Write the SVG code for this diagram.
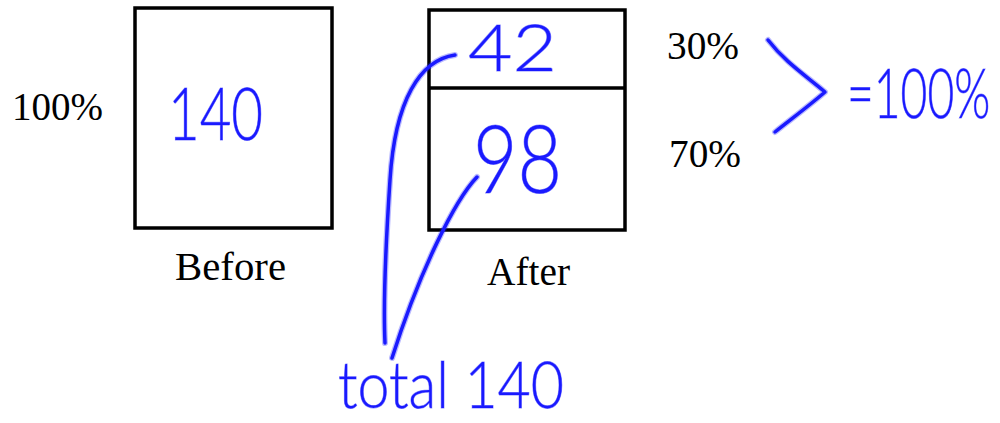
<svg xmlns="http://www.w3.org/2000/svg" width="1000" height="423" viewBox="0 0 1000 423">
<style>
.box{fill:#fff;stroke:#000;stroke-width:3.5}
.lbl{font-family:"Liberation Serif","Times New Roman",serif;font-size:39px;fill:#000}
.hw{font-family:"Lato","Open Sans",sans-serif;font-weight:300;fill:#1a1aff;stroke:#1a1aff;stroke-width:1;stroke-opacity:0.5}
.ink{fill:none;stroke:#1a1aff;stroke-width:3.5;stroke-linecap:round;stroke-linejoin:round}
.halo{fill:none;stroke:#1a1aff;stroke-opacity:0.3;stroke-width:6;stroke-linecap:round;stroke-linejoin:round}
</style>
<rect width="1000" height="423" fill="#fff"/>
<g id="before">
<rect class="box" x="135" y="8" width="197" height="220"/>
<text class="hw" x="168" y="140" font-size="73" textLength="95" lengthAdjust="spacingAndGlyphs">140</text>
<text class="lbl" x="175" y="280" textLength="111" lengthAdjust="spacingAndGlyphs">Before</text>
</g>
<text id="pct100" class="lbl" x="12" y="120" textLength="91" lengthAdjust="spacingAndGlyphs">100%</text>
<g id="after">
<rect class="box" x="429" y="10" width="196" height="220"/>
<line x1="429" y1="88" x2="625" y2="88" stroke="#000" stroke-width="3.5"/>
<text class="hw" x="468" y="71" font-size="65" textLength="89" lengthAdjust="spacingAndGlyphs">42</text>
<text class="hw" x="473" y="193" font-size="95" textLength="89" lengthAdjust="spacingAndGlyphs">98</text>
<text class="lbl" x="487" y="285" textLength="83" lengthAdjust="spacingAndGlyphs">After</text>
</g>
<text id="pct30" class="lbl" x="667" y="59" textLength="72" lengthAdjust="spacingAndGlyphs">30%</text>
<text id="pct70" class="lbl" x="669" y="167" textLength="72" lengthAdjust="spacingAndGlyphs">70%</text>
<text id="sum" class="hw" transform="translate(847,118) scale(0.68,1)" x="0" y="0" font-size="68">=100%</text>
<text id="total" class="hw" x="338" y="408" font-size="66" textLength="226" lengthAdjust="spacingAndGlyphs">total 140</text>
<g id="connectors">
<path class="halo" d="M455,55 C420,60 395,100 390,180 C386,240 383,300 385,343"/>
<path class="ink" d="M455,55 C420,60 395,100 390,180 C386,240 383,300 385,343"/>
<path class="halo" d="M477,177 C455,200 420,270 392,358"/>
<path class="ink" d="M477,177 C455,200 420,270 392,358"/>
<path class="halo" d="M768,40 C785,62 805,75 825,92 C810,105 790,120 775,132"/>
<path class="ink" d="M768,40 C785,62 805,75 825,92 C810,105 790,120 775,132"/>
</g>
</svg>
